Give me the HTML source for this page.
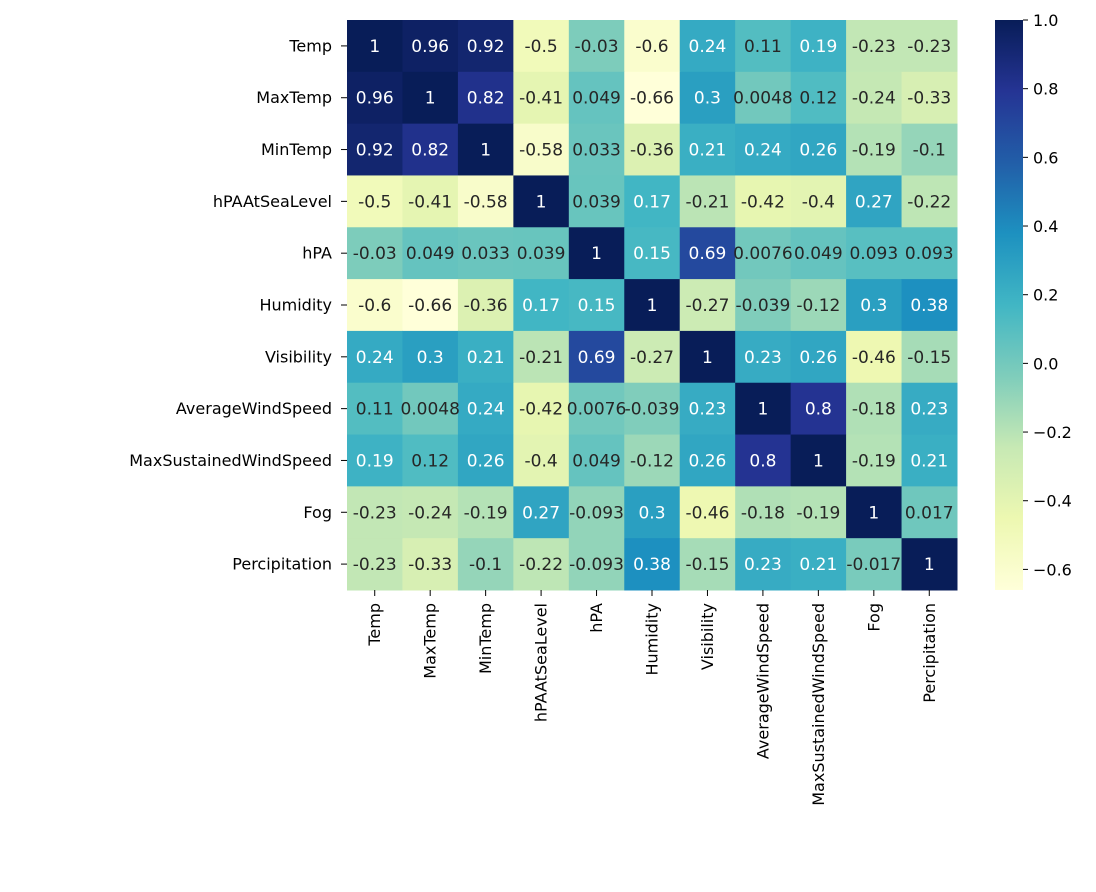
<!DOCTYPE html>
<html><head><meta charset="utf-8">
<style>html,body{margin:0;padding:0;background:#fff;}svg{display:block;font-family:"DejaVu Sans","Liberation Sans",sans-serif;}</style>
</head><body>
<svg id="chart" width="1096" height="892"></svg>
<script>
const labels = ["Temp","MaxTemp","MinTemp","hPAAtSeaLevel","hPA","Humidity","Visibility","AverageWindSpeed","MaxSustainedWindSpeed","Fog","Percipitation"];
const rowTemp = [1,0.96,0.92,-0.5,-0.03,-0.6,0.24,0.11,0.19,-0.23,-0.23];
const rowMaxTemp = [0.96,1,0.82,-0.41,0.049,-0.66,0.3,0.0048,0.12,-0.24,-0.33];
const rowMinTemp = [0.92,0.82,1,-0.58,0.033,-0.36,0.21,0.24,0.26,-0.19,-0.1];
const rowSea = [-0.5,-0.41,-0.58,1,0.039,0.17,-0.21,-0.42,-0.4,0.27,-0.22];
const rowHPA = [-0.03,0.049,0.033,0.039,1,0.15,0.69,0.0076,0.049,0.093,0.093];
const rowHum = [-0.6,-0.66,-0.36,0.17,0.15,1,-0.27,-0.039,-0.12,0.3,0.38];
const rowVis = [0.24,0.3,0.21,-0.21,0.69,-0.27,1,0.23,0.26,-0.46,-0.15];
const rowAvgW = [0.11,0.0048,0.24,-0.42,0.0076,-0.039,0.23,1,0.8,-0.18,0.23];
const rowMaxW = [0.19,0.12,0.26,-0.4,0.049,-0.12,0.26,0.8,1,-0.19,0.21];
const rowFog = [-0.23,-0.24,-0.19,0.27,-0.093,0.3,-0.46,-0.18,-0.19,1,0.017];
const rowPerc = [-0.23,-0.33,-0.1,-0.22,-0.093,0.38,-0.15,0.23,0.21,-0.017,1];
const cbTicks = [1.0,0.8,0.6,0.4,0.2,0.0,-0.2,-0.4,-0.6];
const vmin = -0.66, vmax = 1.0;

const matrix = [rowTemp,rowMaxTemp,rowMinTemp,rowSea,rowHPA,rowHum,rowVis,rowAvgW,rowMaxW,rowFog,rowPerc];
const NS = "http://www.w3.org/2000/svg";
const svg = document.getElementById("chart");
const X0=347,X1=957,Y0=20,Y1=590;
const n=labels.length, cw=(X1-X0)/n, ch=(Y1-Y0)/n;
const stops=["#ffffd9","#edf8b1","#c7e9b4","#7fcdbb","#41b6c4","#1d91c0","#225ea8","#253494","#081d58"].map(h=>[1,3,5].map(i=>parseInt(h.substr(i,2),16)));
function cmap(v){let t=(v-vmin)/(vmax-vmin);t=Math.max(0,Math.min(1,t));const p=t*(stops.length-1);const i=Math.min(stops.length-2,Math.floor(p));const f=p-i;return stops[i].map((c,k)=>Math.round(c+(stops[i+1][k]-c)*f));}
function lum(c){const l=c.map(x=>{x/=255;return x<=0.03928?x/12.92:Math.pow((x+0.055)/1.055,2.4);});return 0.2126*l[0]+0.7152*l[1]+0.0722*l[2];}
function el(tag,attrs){const e=document.createElementNS(NS,tag);for(const k in attrs)e.setAttribute(k,attrs[k]);svg.appendChild(e);return e;}
function fmt(v){return String(Number(v.toPrecision(2)));}
for(let r=0;r<n;r++){for(let c=0;c<n;c++){
  const v=matrix[r][c], col=cmap(v);
  const rect=el("rect",{x:X0+c*cw,y:Y0+r*ch,width:cw+0.5,height:ch+0.5,fill:`rgb(${col})`});
  
  
}}
for(let r=0;r<n;r++){for(let c=0;c<n;c++){
  const v=matrix[r][c], col=cmap(v);
  const t=el("text",{x:X0+(c+0.5)*cw,y:Y0+(r+0.5)*ch+6,"text-anchor":"middle","font-size":"17",fill:lum(col)<0.408?"#fff":"#262626"});
  t.textContent=fmt(v);
  
  
}}
for(let i=0;i<n;i++){
  const y=Y0+(i+0.5)*ch;
  el("line",{x1:X0-6,x2:X0,y1:y,y2:y,stroke:"#000","stroke-width":1});
  const t=el("text",{x:X0-15,y:y+5.5,"text-anchor":"end","font-size":"16",fill:"#000"});
  t.textContent=labels[i];
  
  
  const x=X0+(i+0.5)*cw;
  el("line",{x1:x,x2:x,y1:Y1,y2:Y1+6,stroke:"#000","stroke-width":1});
  const tx=el("text",{x:x+5.5,y:Y1+13,"text-anchor":"end","font-size":"16",fill:"#000",transform:`rotate(-90 ${x+5.5} ${Y1+13})`});
  tx.textContent=labels[i];
  
  
}
const CX=995,CW=28;
const defs=el("defs",{});
const lg=document.createElementNS(NS,"linearGradient");
lg.setAttribute("id","cbg");lg.setAttribute("x1","0");lg.setAttribute("y1","1");lg.setAttribute("x2","0");lg.setAttribute("y2","0");
stops.forEach((s,i)=>{const st=document.createElementNS(NS,"stop");st.setAttribute("offset",i/(stops.length-1));st.setAttribute("stop-color",`rgb(${s})`);lg.appendChild(st);});
defs.appendChild(lg);
const cb=el("rect",{x:CX,y:Y0,width:CW,height:Y1-Y0,fill:"url(#cbg)"});


function cy(v){return Y1-(v-vmin)/(vmax-vmin)*(Y1-Y0);}
cbTicks.forEach(v=>{
  const y=cy(v);
  el("line",{x1:CX+CW,x2:CX+CW+5,y1:y,y2:y,stroke:"#000","stroke-width":1});
  const t=el("text",{x:CX+CW+10,y:y+6,"font-size":"16",fill:"#000"});
  t.textContent=(v<0?"\u2212":"")+Math.abs(v).toFixed(1);
  
  
});
</script>
</body></html>
